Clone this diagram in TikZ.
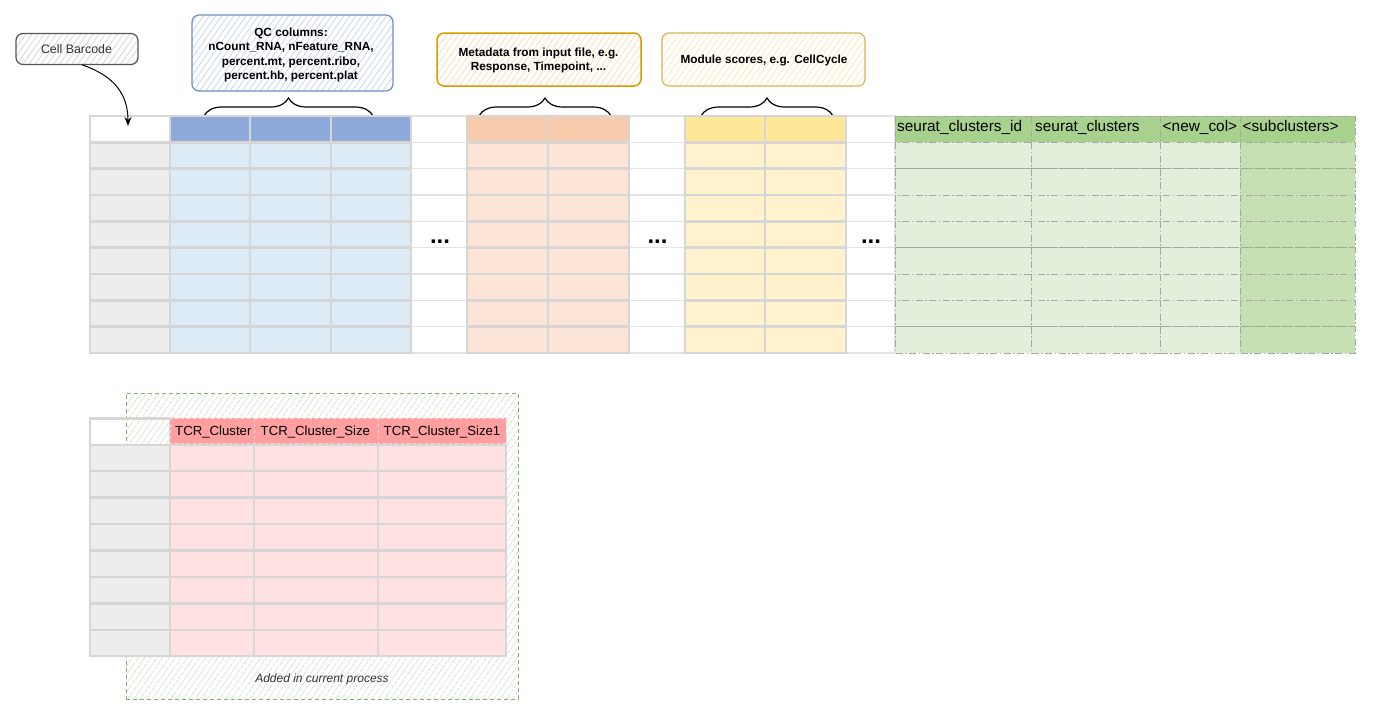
\documentclass[tikz,border=0pt]{standalone}
\usepackage{fontspec}
\setmainfont{Liberation Sans}
\usetikzlibrary{patterns.meta,arrows.meta,decorations.pathreplacing}
\definecolor{cgray}{HTML}{EDEDED}
\definecolor{gridc}{HTML}{D6D6D6}
\definecolor{gridw}{HTML}{E3E3E3}
\definecolor{qch}{HTML}{8EAADB}
\definecolor{qcd}{HTML}{DDEBF7}
\definecolor{mdh}{HTML}{F8CBAD}
\definecolor{mdd}{HTML}{FCE4D6}
\definecolor{msh}{HTML}{FFE699}
\definecolor{msd}{HTML}{FFF2CC}
\definecolor{grh}{HTML}{A9D18E}
\definecolor{grd}{HTML}{E2EFDA}
\definecolor{grs}{HTML}{C6E0B4}
\definecolor{grb}{HTML}{A6A6A6}
\definecolor{rdh}{HTML}{FF9F9F}
\definecolor{rdd}{HTML}{FFE1E1}
\definecolor{rdb}{HTML}{FFD6D6}
\definecolor{txt}{HTML}{333333}
\definecolor{cbd}{HTML}{555555}
\definecolor{cbh}{HTML}{D2D2D2}
\definecolor{qcb}{HTML}{6C8EBF}
\definecolor{qcp}{HTML}{BFD3F0}
\definecolor{mdb}{HTML}{D79B00}
\definecolor{mdp}{HTML}{FFD9B0}
\definecolor{msb}{HTML}{D6B656}
\definecolor{msp}{HTML}{FCE6A8}
\definecolor{adb}{HTML}{82B366}
\definecolor{adp}{HTML}{CFE3CC}
\begin{document}
\begin{tikzpicture}[x=1pt,y=-1pt,
  gcell/.style={draw=gridc,line width=2.4pt},
  wcell/.style={fill=white,draw=gridw,line width=1.3pt},
  dcell/.style={draw=grb,line width=1pt,dash pattern=on 7pt off 2.5pt on 1.5pt off 2.5pt},
  rhead/.style={fill=rdh,draw=rdb,line width=1pt,dash pattern=on 3pt off 3pt},
  callout/.style={rounded corners=7pt,line width=1.2pt,inner sep=0pt},
  hatch/.style={pattern={Lines[angle=55,distance=5pt,line width=0.7pt]},pattern color=#1},
  ctext/.style={font=\fontsize{11.8}{14.4}\selectfont\bfseries,align=center,text=black,inner sep=0pt},
  htext/.style={font=\fontsize{15.4}{18}\selectfont,anchor=base west,inner sep=0pt,text=black},
  ttext/.style={font=\fontsize{13.2}{16}\selectfont,anchor=base west,inner sep=0pt,text=black},
  bracestyle/.style={decorate,decoration={brace,amplitude=18pt},line width=1.2pt,black},
  dots/.style={font=\fontsize{24}{24}\selectfont\bfseries,inner sep=0pt,anchor=base}
]
\useasboundingbox (0,0) rectangle (1382,716);

% ---------- callouts ----------
\node[callout,draw=cbd,hatch=cbh,minimum width=122pt,minimum height=31pt] (cb) at (77,49) {};
\node[font=\fontsize{12.4}{14}\selectfont,text=txt,inner sep=0pt] (cbt) at (76.5,49.5) {Cell Barcode};

\node[callout,draw=qcb,hatch=qcp,minimum width=201pt,minimum height=76pt] (qc) at (292.5,53) {};
\node[ctext] (qct) at (291,55) {QC columns:\\nCount\_RNA, nFeature\_RNA,\\percent.mt, percent.ribo,\\percent.hb, percent.plat};

\node[callout,draw=mdb,line width=1.5pt,hatch=mdp,minimum width=204pt,minimum height=53pt] (md) at (539,59.5) {};
\node[ctext] (mdt) at (538.5,60.5) {Metadata from input file, e.g.\\Response, Timepoint, ...};

\node[callout,draw=msb,hatch=msp,minimum width=203pt,minimum height=53pt] (ms) at (763.5,59.5) {};
\node[ctext] (mst) at (764,60) {Module scores, e.g. CellCycle};

% ---------- braces ----------
\coordinate (qcl) at (204,116); \coordinate (qcr) at (373,116);
\coordinate (mdl) at (479,116); \coordinate (mdr) at (611,116);
\coordinate (msl) at (701,116); \coordinate (msr) at (833,116);
\draw[bracestyle] (qcl) -- (qcr);
\draw[bracestyle] (mdl) -- (mdr);
\draw[bracestyle] (msl) -- (msr);

% ---------- main table ----------
\foreach \xa/\xb in {411/467,629/685,846/895}{
  \foreach \r in {0,...,8}
    \path[wcell] (\xa,{116+\r*26.333}) rectangle (\xb,{116+(\r+1)*26.333});
}
\foreach \xa/\xb/\hc/\dc in {90/170/white/cgray,170/250/qch/qcd,250/331/qch/qcd,331/411/qch/qcd,
  467/548/mdh/mdd,548/629/mdh/mdd,685/765/msh/msd,765/846/msh/msd}{
  \path[gcell,fill=\hc] (\xa,116) rectangle (\xb,142.333);
  \foreach \r in {1,...,8}
    \path[gcell,fill=\dc] (\xa,{116+\r*26.333}) rectangle (\xb,{116+(\r+1)*26.333});
}
\foreach \xa/\xb/\dc in {895/1031/grd,1031/1160/grd,1160/1240/grd,1240/1355/grs}{
  \path[dcell,fill=grh] (\xa,116) rectangle (\xb,142.333);
  \foreach \r in {1,...,8}
    \path[dcell,fill=\dc] (\xa,{116+\r*26.333}) rectangle (\xb,{116+(\r+1)*26.333});
}
\node[htext] (h1) at (897,131.5) {seurat\_clusters\_id};
\node[htext] (h2) at (1035,131.5) {seurat\_clusters};
\node[htext] (h3) at (1162.5,131.5) {<new\_col>};
\node[htext] (h4) at (1242.5,131.5) {<subclusters>};

\node[dots] (d1) at (440,243.5) {...};
\node[dots] (d2) at (657.5,243.5) {...};
\node[dots] (d3) at (871,243.5) {...};

% ---------- arrow ----------
\coordinate (cbtarget) at (128,126);
\draw[line width=1pt,-{Stealth[length=9pt,width=7pt]}] ([xshift=5pt]cb.south) .. controls (115,76) and (128,95) .. (cbtarget);

% ---------- added region ----------
\node[draw=adb,line width=1pt,dash pattern=on 4pt off 3pt,hatch=adp,minimum width=392pt,minimum height=306pt,inner sep=0pt] (added) at (322,546) {};
\node[font=\fontsize{12}{14}\selectfont\itshape,text=txt,inner sep=0pt] (addedt) at (322,679) {Added in current process};

% ---------- bottom table ----------
\path[gcell] (90,418.3) rectangle (170,444.74);
\foreach \r in {1,...,8}
  \path[gcell,fill=cgray] (90,{418.3+\r*26.44}) rectangle (170,{418.3+(\r+1)*26.44});
\foreach \xa/\xb in {170/254,254/378,378/506}{
  \foreach \r in {1,...,8}
    \path[gcell,fill=rdd] (\xa,{418.3+\r*26.44}) rectangle (\xb,{418.3+(\r+1)*26.44});
  \path[rhead] (\xa,418.3) rectangle (\xb,443.5);
}
\node[ttext] (t1) at (175,435) {TCR\_Cluster};
\node[ttext] (t2) at (260.5,435) {TCR\_Cluster\_Size};
\node[ttext] (t3) at (383.5,435) {TCR\_Cluster\_Size1};
\end{tikzpicture}
\end{document}
